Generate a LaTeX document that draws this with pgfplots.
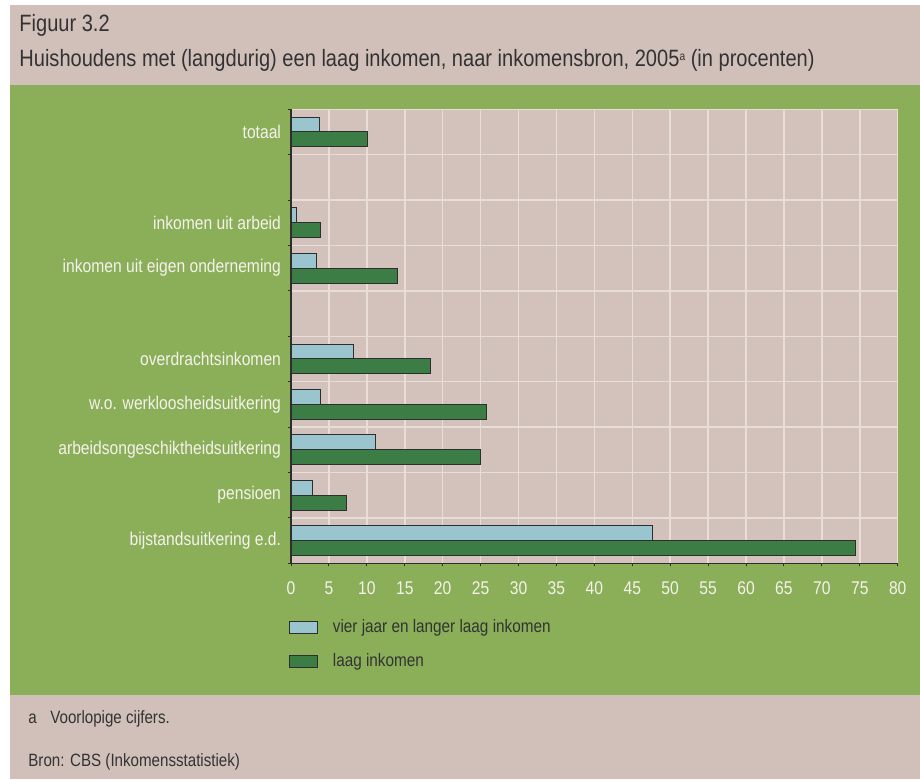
\documentclass[border=0pt]{standalone}
\usepackage{pgfplots}
\pgfplotsset{compat=1.18}
\usepackage{fontspec}
\setmainfont{Liberation Sans}[FakeStretch=0.85]
\definecolor{pinkbg}{HTML}{D1C0B9}
\definecolor{plotbg}{HTML}{D3C1BB}
\definecolor{greenbg}{HTML}{8AAF58}
\definecolor{lightb}{HTML}{9AC5CF}
\definecolor{darkg}{HTML}{3C7C45}
\definecolor{gridc}{HTML}{E8DDD7}
\definecolor{txt}{HTML}{333333}
\definecolor{wtxt}{HTML}{F5F1EC}
\definecolor{barline}{HTML}{2E2E2E}
\begin{document}
\begin{tikzpicture}
\useasboundingbox (0pt,0pt) rectangle (460pt,390pt);
\fill[white] (0pt,0pt) rectangle (460pt,390pt);
\fill[pinkbg] (5pt,347.5pt) rectangle (460pt,387.5pt);
\fill[greenbg] (5pt,42.5pt) rectangle (460pt,347.5pt);
\fill[pinkbg] (5pt,0.5pt) rectangle (460pt,42.5pt);
\node[anchor=west, inner sep=0pt, text=txt, font=\fontsize{11.8}{13}\selectfont] at (9.5pt,377.5pt) {Figuur 3.2};
\node[anchor=west, inner sep=0pt, text=txt, font=\fontsize{11.8}{13}\selectfont] at (9.5pt,360pt) {Huishoudens met (langdurig) een laag inkomen, naar inkomensbron, 2005{\raisebox{0.45ex}{\fontsize{6}{7}\selectfont a}} (in procenten)};
\node[anchor=west, inner sep=0pt, text=txt, font=\fontsize{8.9}{10}\selectfont] at (14pt,30.5pt) {a};
\node[anchor=west, inner sep=0pt, text=txt, font=\fontsize{8.9}{10}\selectfont] at (25pt,30.5pt) {Voorlopige cijfers.};
\node[anchor=west, inner sep=0pt, text=txt, font=\fontsize{8.9}{10}\selectfont] at (14pt,9pt) {Bron: CBS (Inkomensstatistiek)};
\begin{axis}[
  at={(145.5pt,108.35pt)}, anchor=south west,
  scale only axis, width=303.35pt, height=227pt,
  xmin=0, xmax=80, ymin=-0.5, ymax=9.5, y dir=reverse,
  axis background/.style={fill=plotbg},
  xbar, bar width=0.33,
  xtick={0,5,...,80},
  ytick={-0.5,0.5,...,9.5}, yticklabels={},
  extra y ticks={0,2,3,5,6,7,8,9},
  extra y tick labels={totaal,inkomen uit arbeid,inkomen uit eigen onderneming,overdrachtsinkomen,w.o. werkloosheidsuitkering,arbeidsongeschiktheidsuitkering,pensioen,bijstandsuitkering e.d.},
  extra y tick style={major tick length=0pt, grid=none, yticklabel style={xshift=-1.5pt}},
  xmajorgrids, ymajorgrids,
  major grid style={gridc, line width=0.75pt},
  axis x line*=bottom, axis y line*=left,
  axis line style={-, draw=barline, line width=0.6pt},
  tick align=outside, major tick length=1.5pt,
  tick style={draw=barline, line width=0.5pt},
  tick label style={font=\fontsize{9.2}{10}\selectfont, text=wtxt},
  /pgf/number format/assume math mode=true,
  xticklabel style={yshift=-4pt},
  legend style={at={(axis description cs:-0.0033,-0.114)}, anchor=north west, draw=none, fill=none,
    font=\fontsize{9}{10}\selectfont, text=txt, row sep=5pt, inner sep=0pt},
  legend cell align=left,
]
\addplot[xbar, bar shift=-0.165, fill=lightb, draw=barline, line width=0.5pt,
  legend image code/.code={\draw[fill=lightb, draw=barline, line width=0.5pt] (0pt,-3pt) rectangle (14pt,3pt); \path[draw=none,fill=none] (0pt,0pt) -- (19.5pt,0pt);}]
  coordinates {(3.8,0) (0.7,2) (3.3,3) (8.2,5) (3.9,6) (11.2,7) (2.8,8) (47.7,9)};
\addlegendentry{vier jaar en langer laag inkomen}
\addplot[xbar, bar shift=0.165, fill=darkg, draw=barline, line width=0.5pt,
  legend image code/.code={\draw[fill=darkg, draw=barline, line width=0.5pt] (0pt,-3pt) rectangle (14pt,3pt); \path[draw=none,fill=none] (0pt,0pt) -- (19.5pt,0pt);}]
  coordinates {(10.1,0) (3.9,2) (14.0,3) (18.4,5) (25.8,6) (25.0,7) (7.3,8) (74.4,9)};
\addlegendentry{laag inkomen}
\end{axis}
\end{tikzpicture}
\end{document}
